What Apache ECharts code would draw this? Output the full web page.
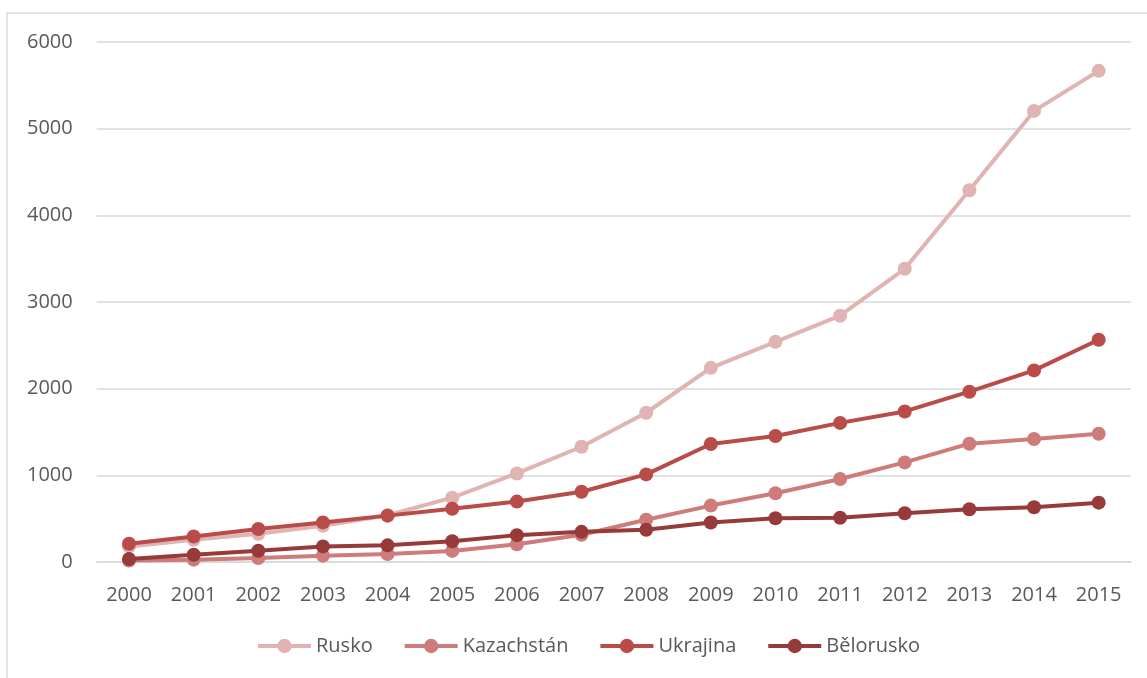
<!DOCTYPE html>
<html>
<head>
<meta charset="utf-8">
<style>
  html, body { margin: 0; padding: 0; background: #ffffff; }
  #chart { width: 1147px; height: 678px; }
</style>
<script src="https://cdn.jsdelivr.net/npm/echarts@6/dist/echarts.min.js"></script>
</head>
<body>
<div id="chart"></div>
<script>
// Years on the category axis
const years = ['2000', '2001', '2002', '2003', '2004', '2005', '2006', '2007',
               '2008', '2009', '2010', '2011', '2012', '2013', '2014', '2015'];

// Series values per year
const rusko      = [180, 257, 326, 419, 540, 742, 1022, 1330, 1722, 2240, 2540, 2842, 3383, 4290, 5205, 5667];
const kazachstan = [18, 27, 46, 73, 92, 128, 205, 314, 487, 651, 794, 957, 1149, 1365, 1419, 1480];
const ukrajina   = [211, 295, 380, 457, 535, 614, 697, 811, 1011, 1362, 1454, 1605, 1737, 1965, 2211, 2564];
const belorusko  = [35, 84, 130, 180, 192, 240, 310, 348, 371, 455, 505, 510, 563, 609, 632, 685];

const seriesNames  = ['Rusko', 'Kazachstán', 'Ukrajina', 'Bělorusko'];
const seriesData   = [rusko, kazachstan, ukrajina, belorusko];
const seriesColors = ['#dfb4b3', '#cd7c7a', '#b94b48', '#963b39'];

const FONT = '"Open Sans", "Noto Sans", sans-serif';
const TEXT_COLOR = '#595959';
const GRID_COLOR = '#d9d9d9';

const chart = echarts.init(document.getElementById('chart'), null, { renderer: 'canvas' });

chart.setOption({
  animation: false,
  backgroundColor: '#ffffff',
  textStyle: { fontFamily: FONT },
  graphic: [{
    type: 'rect',
    silent: true,
    shape: { x: 7, y: 13, width: 1200, height: 720 },
    style: { fill: 'none', stroke: GRID_COLOR, lineWidth: 1.5 },
    z: -1
  }],
  grid: { left: 96.7, right: 16, top: 42, bottom: 116, containLabel: false },
  legend: {
    top: 631,
    left: 251,
    itemWidth: 53,
    itemHeight: 18,
    itemGap: 30,
    lineStyle: { width: 4 },
    textStyle: { fontFamily: FONT, fontSize: 20, color: TEXT_COLOR },
    data: seriesNames
  },
  xAxis: {
    type: 'category',
    data: years,
    boundaryGap: true,
    axisLine: { show: true, lineStyle: { color: GRID_COLOR, width: 1.5 } },
    axisTick: { show: false },
    axisLabel: { fontFamily: FONT, fontSize: 20, color: TEXT_COLOR, margin: 23, interval: 0 }
  },
  yAxis: {
    type: 'value',
    min: 0,
    max: 6000,
    interval: 1000,
    axisLine: { show: false },
    axisTick: { show: false },
    splitLine: { lineStyle: { color: GRID_COLOR, width: 1.5 } },
    axisLabel: {
      fontFamily: FONT, fontSize: 20, color: TEXT_COLOR, margin: 24,
      formatter: (v) => String(v)
    }
  },
  series: seriesNames.map((name, i) => ({
    name: name,
    type: 'line',
    data: seriesData[i],
    symbol: 'circle',
    symbolSize: 14,
    showSymbol: true,
    color: seriesColors[i],
    lineStyle: { width: 4, color: seriesColors[i] },
    itemStyle: { color: seriesColors[i] },
    z: 2 + i
  }))
});
</script>
</body>
</html>
